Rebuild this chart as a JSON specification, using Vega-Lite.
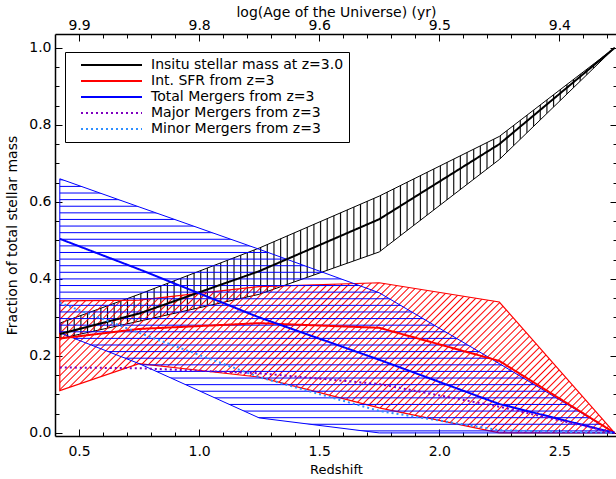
{
  "$schema": "https://vega.github.io/schema/vega-lite/v6.json",
  "width": 562,
  "height": 402,
  "autosize": {"type": "none"},
  "padding": {"left": 55, "top": 34, "right": 0, "bottom": 43},
  "background": "white",
  "config": {
    "view": {"stroke": null},
    "font": "DejaVu Sans",
    "axis": {
      "grid": false,
      "domainColor": "black",
      "domainWidth": 1.5,
      "tickColor": "black",
      "tickWidth": 1,
      "labelFont": "DejaVu Sans",
      "labelFontSize": 14,
      "labelColor": "black",
      "labelOverlap": false,
      "labelFlush": false,
      "titleFont": "DejaVu Sans",
      "titleFontSize": 13,
      "titleFontWeight": "normal",
      "titleColor": "black"
    },
    "legend": {
      "orient": "none",
      "legendX": 10,
      "legendY": 18,
      "symbolType": "stroke",
      "symbolSize": 3721,
      "symbolStrokeWidth": 2,
      "symbolOffset": 10,
      "clipHeight": 16,
      "labelFont": "DejaVu Sans",
      "labelFontSize": 14,
      "labelColor": "black",
      "labelOffset": 8,
      "labelLimit": 400,
      "rowPadding": 0,
      "padding": 5,
      "strokeColor": "black",
      "strokeWidth": 1,
      "fillColor": "white"
    }
  },
  "datasets": {
    "bands": [
      {"band": "insitu", "z": 0.42, "lo": 0.245, "hi": 0.285},
      {"band": "insitu", "z": 0.75, "lo": 0.29, "hi": 0.36},
      {"band": "insitu", "z": 1.25, "lo": 0.36, "hi": 0.48},
      {"band": "insitu", "z": 1.75, "lo": 0.47, "hi": 0.615},
      {"band": "insitu", "z": 2.25, "lo": 0.71, "hi": 0.77},
      {"band": "insitu", "z": 2.73, "lo": 1.0, "hi": 1.0},
      {"band": "sfr", "z": 0.42, "lo": 0.11, "hi": 0.343},
      {"band": "sfr", "z": 0.75, "lo": 0.18, "hi": 0.345},
      {"band": "sfr", "z": 1.25, "lo": 0.145, "hi": 0.38},
      {"band": "sfr", "z": 1.75, "lo": 0.065, "hi": 0.39},
      {"band": "sfr", "z": 2.25, "lo": 0.0, "hi": 0.34},
      {"band": "sfr", "z": 2.73, "lo": 0.0, "hi": 0.0},
      {"band": "mergers", "z": 0.42, "lo": 0.26, "hi": 0.66},
      {"band": "mergers", "z": 0.75, "lo": 0.18, "hi": 0.587},
      {"band": "mergers", "z": 1.25, "lo": 0.039, "hi": 0.477},
      {"band": "mergers", "z": 1.75, "lo": 0.0, "hi": 0.364},
      {"band": "mergers", "z": 2.25, "lo": 0.0, "hi": 0.18},
      {"band": "mergers", "z": 2.73, "lo": 0.0, "hi": 0.0}
    ],
    "lines": [
      {"s": "Insitu stellar mass at z=3.0", "z": 0.42, "f": 0.257},
      {"s": "Insitu stellar mass at z=3.0", "z": 0.75, "f": 0.31},
      {"s": "Insitu stellar mass at z=3.0", "z": 1.25, "f": 0.42},
      {"s": "Insitu stellar mass at z=3.0", "z": 1.75, "f": 0.555},
      {"s": "Insitu stellar mass at z=3.0", "z": 2.25, "f": 0.75},
      {"s": "Insitu stellar mass at z=3.0", "z": 2.73, "f": 1.0},
      {"s": "Int. SFR from z=3", "z": 0.42, "f": 0.245},
      {"s": "Int. SFR from z=3", "z": 0.75, "f": 0.27},
      {"s": "Int. SFR from z=3", "z": 1.25, "f": 0.285},
      {"s": "Int. SFR from z=3", "z": 1.75, "f": 0.273},
      {"s": "Int. SFR from z=3", "z": 2.25, "f": 0.187},
      {"s": "Int. SFR from z=3", "z": 2.73, "f": 0.0},
      {"s": "Total Mergers from z=3", "z": 0.42, "f": 0.504},
      {"s": "Total Mergers from z=3", "z": 0.75, "f": 0.425},
      {"s": "Total Mergers from z=3", "z": 1.25, "f": 0.3},
      {"s": "Total Mergers from z=3", "z": 1.75, "f": 0.19},
      {"s": "Total Mergers from z=3", "z": 2.25, "f": 0.075},
      {"s": "Total Mergers from z=3", "z": 2.73, "f": 0.0},
      {"s": "Major Mergers from z=3", "z": 0.42, "f": 0.17},
      {"s": "Major Mergers from z=3", "z": 0.75, "f": 0.168},
      {"s": "Major Mergers from z=3", "z": 1.25, "f": 0.155},
      {"s": "Major Mergers from z=3", "z": 1.75, "f": 0.127},
      {"s": "Major Mergers from z=3", "z": 2.25, "f": 0.068},
      {"s": "Major Mergers from z=3", "z": 2.73, "f": 0.0},
      {"s": "Minor Mergers from z=3", "z": 0.42, "f": 0.338},
      {"s": "Minor Mergers from z=3", "z": 0.75, "f": 0.26},
      {"s": "Minor Mergers from z=3", "z": 1.25, "f": 0.145},
      {"s": "Minor Mergers from z=3", "z": 1.75, "f": 0.057},
      {"s": "Minor Mergers from z=3", "z": 2.25, "f": 0.007},
      {"s": "Minor Mergers from z=3", "z": 2.73, "f": 0.0}
    ]
  },
  "layer": [
    {
      "data": {"name": "bands"},
      "transform": [{"filter": "datum.band === 'insitu'"}],
      "mark": {
        "type": "area",
        "clip": true,
        "stroke": "black",
        "strokeWidth": 1,
        "fill": {
          "gradient": "linear", "x1": 0, "y1": 0, "x2": 1, "y2": 0,
          "stops": [
            {"offset":0,"color":"#0000"},{"offset":0.002,"color":"#000"},{"offset":0.004,"color":"#0000"},
            {"offset":0.012,"color":"#0000"},{"offset":0.014,"color":"#000"},{"offset":0.016,"color":"#0000"},
            {"offset":0.024,"color":"#0000"},{"offset":0.026,"color":"#000"},{"offset":0.028,"color":"#0000"},
            {"offset":0.036,"color":"#0000"},{"offset":0.038,"color":"#000"},{"offset":0.04,"color":"#0000"},
            {"offset":0.048,"color":"#0000"},{"offset":0.05,"color":"#000"},{"offset":0.052,"color":"#0000"},
            {"offset":0.06,"color":"#0000"},{"offset":0.062,"color":"#000"},{"offset":0.064,"color":"#0000"},
            {"offset":0.072,"color":"#0000"},{"offset":0.074,"color":"#000"},{"offset":0.076,"color":"#0000"},
            {"offset":0.084,"color":"#0000"},{"offset":0.086,"color":"#000"},{"offset":0.088,"color":"#0000"},
            {"offset":0.096,"color":"#0000"},{"offset":0.098,"color":"#000"},{"offset":0.1,"color":"#0000"},
            {"offset":0.108,"color":"#0000"},{"offset":0.11,"color":"#000"},{"offset":0.112,"color":"#0000"},
            {"offset":0.12,"color":"#0000"},{"offset":0.122,"color":"#000"},{"offset":0.124,"color":"#0000"},
            {"offset":0.132,"color":"#0000"},{"offset":0.134,"color":"#000"},{"offset":0.136,"color":"#0000"},
            {"offset":0.144,"color":"#0000"},{"offset":0.146,"color":"#000"},{"offset":0.148,"color":"#0000"},
            {"offset":0.156,"color":"#0000"},{"offset":0.158,"color":"#000"},{"offset":0.16,"color":"#0000"},
            {"offset":0.168,"color":"#0000"},{"offset":0.17,"color":"#000"},{"offset":0.172,"color":"#0000"},
            {"offset":0.18,"color":"#0000"},{"offset":0.182,"color":"#000"},{"offset":0.184,"color":"#0000"},
            {"offset":0.192,"color":"#0000"},{"offset":0.194,"color":"#000"},{"offset":0.196,"color":"#0000"},
            {"offset":0.204,"color":"#0000"},{"offset":0.206,"color":"#000"},{"offset":0.208,"color":"#0000"},
            {"offset":0.216,"color":"#0000"},{"offset":0.218,"color":"#000"},{"offset":0.22,"color":"#0000"},
            {"offset":0.228,"color":"#0000"},{"offset":0.23,"color":"#000"},{"offset":0.232,"color":"#0000"},
            {"offset":0.24,"color":"#0000"},{"offset":0.242,"color":"#000"},{"offset":0.244,"color":"#0000"},
            {"offset":0.252,"color":"#0000"},{"offset":0.254,"color":"#000"},{"offset":0.256,"color":"#0000"},
            {"offset":0.264,"color":"#0000"},{"offset":0.266,"color":"#000"},{"offset":0.268,"color":"#0000"},
            {"offset":0.276,"color":"#0000"},{"offset":0.278,"color":"#000"},{"offset":0.28,"color":"#0000"},
            {"offset":0.288,"color":"#0000"},{"offset":0.29,"color":"#000"},{"offset":0.292,"color":"#0000"},
            {"offset":0.3,"color":"#0000"},{"offset":0.302,"color":"#000"},{"offset":0.304,"color":"#0000"},
            {"offset":0.312,"color":"#0000"},{"offset":0.314,"color":"#000"},{"offset":0.316,"color":"#0000"},
            {"offset":0.324,"color":"#0000"},{"offset":0.326,"color":"#000"},{"offset":0.328,"color":"#0000"},
            {"offset":0.336,"color":"#0000"},{"offset":0.338,"color":"#000"},{"offset":0.34,"color":"#0000"},
            {"offset":0.348,"color":"#0000"},{"offset":0.35,"color":"#000"},{"offset":0.352,"color":"#0000"},
            {"offset":0.36,"color":"#0000"},{"offset":0.362,"color":"#000"},{"offset":0.364,"color":"#0000"},
            {"offset":0.372,"color":"#0000"},{"offset":0.374,"color":"#000"},{"offset":0.376,"color":"#0000"},
            {"offset":0.384,"color":"#0000"},{"offset":0.386,"color":"#000"},{"offset":0.388,"color":"#0000"},
            {"offset":0.396,"color":"#0000"},{"offset":0.398,"color":"#000"},{"offset":0.4,"color":"#0000"},
            {"offset":0.408,"color":"#0000"},{"offset":0.41,"color":"#000"},{"offset":0.412,"color":"#0000"},
            {"offset":0.42,"color":"#0000"},{"offset":0.422,"color":"#000"},{"offset":0.424,"color":"#0000"},
            {"offset":0.432,"color":"#0000"},{"offset":0.434,"color":"#000"},{"offset":0.436,"color":"#0000"},
            {"offset":0.444,"color":"#0000"},{"offset":0.446,"color":"#000"},{"offset":0.448,"color":"#0000"},
            {"offset":0.456,"color":"#0000"},{"offset":0.458,"color":"#000"},{"offset":0.46,"color":"#0000"},
            {"offset":0.468,"color":"#0000"},{"offset":0.47,"color":"#000"},{"offset":0.472,"color":"#0000"},
            {"offset":0.48,"color":"#0000"},{"offset":0.482,"color":"#000"},{"offset":0.484,"color":"#0000"},
            {"offset":0.492,"color":"#0000"},{"offset":0.494,"color":"#000"},{"offset":0.496,"color":"#0000"},
            {"offset":0.504,"color":"#0000"},{"offset":0.506,"color":"#000"},{"offset":0.508,"color":"#0000"},
            {"offset":0.516,"color":"#0000"},{"offset":0.518,"color":"#000"},{"offset":0.52,"color":"#0000"},
            {"offset":0.528,"color":"#0000"},{"offset":0.53,"color":"#000"},{"offset":0.532,"color":"#0000"},
            {"offset":0.54,"color":"#0000"},{"offset":0.542,"color":"#000"},{"offset":0.544,"color":"#0000"},
            {"offset":0.552,"color":"#0000"},{"offset":0.554,"color":"#000"},{"offset":0.556,"color":"#0000"},
            {"offset":0.564,"color":"#0000"},{"offset":0.566,"color":"#000"},{"offset":0.568,"color":"#0000"},
            {"offset":0.576,"color":"#0000"},{"offset":0.578,"color":"#000"},{"offset":0.58,"color":"#0000"},
            {"offset":0.588,"color":"#0000"},{"offset":0.59,"color":"#000"},{"offset":0.592,"color":"#0000"},
            {"offset":0.6,"color":"#0000"},{"offset":0.602,"color":"#000"},{"offset":0.604,"color":"#0000"},
            {"offset":0.612,"color":"#0000"},{"offset":0.614,"color":"#000"},{"offset":0.616,"color":"#0000"},
            {"offset":0.624,"color":"#0000"},{"offset":0.626,"color":"#000"},{"offset":0.628,"color":"#0000"},
            {"offset":0.636,"color":"#0000"},{"offset":0.638,"color":"#000"},{"offset":0.64,"color":"#0000"},
            {"offset":0.648,"color":"#0000"},{"offset":0.65,"color":"#000"},{"offset":0.652,"color":"#0000"},
            {"offset":0.66,"color":"#0000"},{"offset":0.662,"color":"#000"},{"offset":0.664,"color":"#0000"},
            {"offset":0.672,"color":"#0000"},{"offset":0.674,"color":"#000"},{"offset":0.676,"color":"#0000"},
            {"offset":0.684,"color":"#0000"},{"offset":0.686,"color":"#000"},{"offset":0.688,"color":"#0000"},
            {"offset":0.696,"color":"#0000"},{"offset":0.698,"color":"#000"},{"offset":0.7,"color":"#0000"},
            {"offset":0.708,"color":"#0000"},{"offset":0.71,"color":"#000"},{"offset":0.712,"color":"#0000"},
            {"offset":0.72,"color":"#0000"},{"offset":0.722,"color":"#000"},{"offset":0.724,"color":"#0000"},
            {"offset":0.732,"color":"#0000"},{"offset":0.734,"color":"#000"},{"offset":0.736,"color":"#0000"},
            {"offset":0.744,"color":"#0000"},{"offset":0.746,"color":"#000"},{"offset":0.748,"color":"#0000"},
            {"offset":0.756,"color":"#0000"},{"offset":0.758,"color":"#000"},{"offset":0.76,"color":"#0000"},
            {"offset":0.768,"color":"#0000"},{"offset":0.77,"color":"#000"},{"offset":0.772,"color":"#0000"},
            {"offset":0.78,"color":"#0000"},{"offset":0.782,"color":"#000"},{"offset":0.784,"color":"#0000"},
            {"offset":0.792,"color":"#0000"},{"offset":0.794,"color":"#000"},{"offset":0.796,"color":"#0000"},
            {"offset":0.804,"color":"#0000"},{"offset":0.806,"color":"#000"},{"offset":0.808,"color":"#0000"},
            {"offset":0.816,"color":"#0000"},{"offset":0.818,"color":"#000"},{"offset":0.82,"color":"#0000"},
            {"offset":0.828,"color":"#0000"},{"offset":0.83,"color":"#000"},{"offset":0.832,"color":"#0000"},
            {"offset":0.84,"color":"#0000"},{"offset":0.842,"color":"#000"},{"offset":0.844,"color":"#0000"},
            {"offset":0.852,"color":"#0000"},{"offset":0.854,"color":"#000"},{"offset":0.856,"color":"#0000"},
            {"offset":0.864,"color":"#0000"},{"offset":0.866,"color":"#000"},{"offset":0.868,"color":"#0000"},
            {"offset":0.876,"color":"#0000"},{"offset":0.878,"color":"#000"},{"offset":0.88,"color":"#0000"},
            {"offset":0.888,"color":"#0000"},{"offset":0.89,"color":"#000"},{"offset":0.892,"color":"#0000"},
            {"offset":0.9,"color":"#0000"},{"offset":0.902,"color":"#000"},{"offset":0.904,"color":"#0000"},
            {"offset":0.912,"color":"#0000"},{"offset":0.914,"color":"#000"},{"offset":0.916,"color":"#0000"},
            {"offset":0.924,"color":"#0000"},{"offset":0.926,"color":"#000"},{"offset":0.928,"color":"#0000"},
            {"offset":0.936,"color":"#0000"},{"offset":0.938,"color":"#000"},{"offset":0.94,"color":"#0000"},
            {"offset":0.948,"color":"#0000"},{"offset":0.95,"color":"#000"},{"offset":0.952,"color":"#0000"},
            {"offset":0.96,"color":"#0000"},{"offset":0.962,"color":"#000"},{"offset":0.964,"color":"#0000"},
            {"offset":0.972,"color":"#0000"},{"offset":0.974,"color":"#000"},{"offset":0.976,"color":"#0000"},
            {"offset":0.984,"color":"#0000"},{"offset":0.986,"color":"#000"},{"offset":0.988,"color":"#0000"},
            {"offset":0.996,"color":"#0000"},{"offset":0.998,"color":"#000"},{"offset":1,"color":"#0000"}
          ]
        }
      },
      "encoding": {
        "x": {
          "field": "z", "type": "quantitative",
          "scale": {"domain": [0.4, 2.74], "nice": false, "zero": false},
          "axis": {
            "orient": "bottom",
            "title": "Redshift",
            "values": [0.5,0.6,0.7,0.8,0.9,1.0,1.1,1.2,1.3,1.4,1.5,1.6,1.7,1.8,1.9,2.0,2.1,2.2,2.3,2.4,2.5,2.6,2.7],
            "labelExpr": "abs(datum.value*2-round(datum.value*2))<0.01 ? format(datum.value,'.1f') : ''",
            "tickSize": {"condition": {"test": "abs(datum.value*2-round(datum.value*2))<0.01", "value": -7}, "value": -4},
            "labelPadding": 15,
            "titlePadding": 2
          }
        },
        "y": {
          "field": "hi", "type": "quantitative",
          "scale": {"domain": [-0.008, 1.036], "nice": false, "zero": false},
          "axis": {
            "orient": "left",
            "title": "Fraction of total stellar mass",
            "titleFontSize": 14,
            "values": [0,0.05,0.1,0.15,0.2,0.25,0.3,0.35,0.4,0.45,0.5,0.55,0.6,0.65,0.7,0.75,0.8,0.85,0.9,0.95,1.0],
            "labelExpr": "abs(datum.value*5-round(datum.value*5))<0.01 ? format(datum.value,'.1f') : ''",
            "tickSize": {"condition": {"test": "abs(datum.value*5-round(datum.value*5))<0.01", "value": -7}, "value": -4},
            "labelPadding": 11,
            "titlePadding": 9
          }
        },
        "y2": {"field": "lo"}
      }
    },
    {
      "data": {"name": "bands"},
      "transform": [{"filter": "datum.band === 'sfr'"}],
      "mark": {
        "type": "area",
        "clip": true,
        "stroke": "#ff0000",
        "strokeWidth": 1.2,
        "fill": {
          "gradient": "linear", "x1": 0, "y1": 0, "x2": 1.184, "y2": 0.321,
          "stops": [
            {"offset":0,"color":"#f000"},{"offset":0.002,"color":"#f00"},{"offset":0.004,"color":"#f000"},
            {"offset":0.01,"color":"#f000"},{"offset":0.012,"color":"#f00"},{"offset":0.014,"color":"#f000"},
            {"offset":0.02,"color":"#f000"},{"offset":0.022,"color":"#f00"},{"offset":0.024,"color":"#f000"},
            {"offset":0.03,"color":"#f000"},{"offset":0.032,"color":"#f00"},{"offset":0.034,"color":"#f000"},
            {"offset":0.04,"color":"#f000"},{"offset":0.042,"color":"#f00"},{"offset":0.044,"color":"#f000"},
            {"offset":0.05,"color":"#f000"},{"offset":0.052,"color":"#f00"},{"offset":0.054,"color":"#f000"},
            {"offset":0.06,"color":"#f000"},{"offset":0.062,"color":"#f00"},{"offset":0.064,"color":"#f000"},
            {"offset":0.07,"color":"#f000"},{"offset":0.072,"color":"#f00"},{"offset":0.074,"color":"#f000"},
            {"offset":0.08,"color":"#f000"},{"offset":0.082,"color":"#f00"},{"offset":0.084,"color":"#f000"},
            {"offset":0.09,"color":"#f000"},{"offset":0.092,"color":"#f00"},{"offset":0.094,"color":"#f000"},
            {"offset":0.1,"color":"#f000"},{"offset":0.102,"color":"#f00"},{"offset":0.104,"color":"#f000"},
            {"offset":0.11,"color":"#f000"},{"offset":0.112,"color":"#f00"},{"offset":0.114,"color":"#f000"},
            {"offset":0.12,"color":"#f000"},{"offset":0.122,"color":"#f00"},{"offset":0.124,"color":"#f000"},
            {"offset":0.13,"color":"#f000"},{"offset":0.132,"color":"#f00"},{"offset":0.134,"color":"#f000"},
            {"offset":0.14,"color":"#f000"},{"offset":0.142,"color":"#f00"},{"offset":0.144,"color":"#f000"},
            {"offset":0.15,"color":"#f000"},{"offset":0.152,"color":"#f00"},{"offset":0.154,"color":"#f000"},
            {"offset":0.16,"color":"#f000"},{"offset":0.162,"color":"#f00"},{"offset":0.164,"color":"#f000"},
            {"offset":0.17,"color":"#f000"},{"offset":0.172,"color":"#f00"},{"offset":0.174,"color":"#f000"},
            {"offset":0.18,"color":"#f000"},{"offset":0.182,"color":"#f00"},{"offset":0.184,"color":"#f000"},
            {"offset":0.19,"color":"#f000"},{"offset":0.192,"color":"#f00"},{"offset":0.194,"color":"#f000"},
            {"offset":0.2,"color":"#f000"},{"offset":0.202,"color":"#f00"},{"offset":0.204,"color":"#f000"},
            {"offset":0.21,"color":"#f000"},{"offset":0.212,"color":"#f00"},{"offset":0.214,"color":"#f000"},
            {"offset":0.22,"color":"#f000"},{"offset":0.222,"color":"#f00"},{"offset":0.224,"color":"#f000"},
            {"offset":0.23,"color":"#f000"},{"offset":0.232,"color":"#f00"},{"offset":0.234,"color":"#f000"},
            {"offset":0.24,"color":"#f000"},{"offset":0.242,"color":"#f00"},{"offset":0.244,"color":"#f000"},
            {"offset":0.25,"color":"#f000"},{"offset":0.252,"color":"#f00"},{"offset":0.254,"color":"#f000"},
            {"offset":0.26,"color":"#f000"},{"offset":0.262,"color":"#f00"},{"offset":0.264,"color":"#f000"},
            {"offset":0.27,"color":"#f000"},{"offset":0.272,"color":"#f00"},{"offset":0.274,"color":"#f000"},
            {"offset":0.28,"color":"#f000"},{"offset":0.282,"color":"#f00"},{"offset":0.284,"color":"#f000"},
            {"offset":0.29,"color":"#f000"},{"offset":0.292,"color":"#f00"},{"offset":0.294,"color":"#f000"},
            {"offset":0.3,"color":"#f000"},{"offset":0.302,"color":"#f00"},{"offset":0.304,"color":"#f000"},
            {"offset":0.31,"color":"#f000"},{"offset":0.312,"color":"#f00"},{"offset":0.314,"color":"#f000"},
            {"offset":0.32,"color":"#f000"},{"offset":0.322,"color":"#f00"},{"offset":0.324,"color":"#f000"},
            {"offset":0.33,"color":"#f000"},{"offset":0.332,"color":"#f00"},{"offset":0.334,"color":"#f000"},
            {"offset":0.34,"color":"#f000"},{"offset":0.342,"color":"#f00"},{"offset":0.344,"color":"#f000"},
            {"offset":0.35,"color":"#f000"},{"offset":0.352,"color":"#f00"},{"offset":0.354,"color":"#f000"},
            {"offset":0.36,"color":"#f000"},{"offset":0.362,"color":"#f00"},{"offset":0.364,"color":"#f000"},
            {"offset":0.37,"color":"#f000"},{"offset":0.372,"color":"#f00"},{"offset":0.374,"color":"#f000"},
            {"offset":0.38,"color":"#f000"},{"offset":0.382,"color":"#f00"},{"offset":0.384,"color":"#f000"},
            {"offset":0.39,"color":"#f000"},{"offset":0.392,"color":"#f00"},{"offset":0.394,"color":"#f000"},
            {"offset":0.4,"color":"#f000"},{"offset":0.402,"color":"#f00"},{"offset":0.404,"color":"#f000"},
            {"offset":0.41,"color":"#f000"},{"offset":0.412,"color":"#f00"},{"offset":0.414,"color":"#f000"},
            {"offset":0.42,"color":"#f000"},{"offset":0.422,"color":"#f00"},{"offset":0.424,"color":"#f000"},
            {"offset":0.43,"color":"#f000"},{"offset":0.432,"color":"#f00"},{"offset":0.434,"color":"#f000"},
            {"offset":0.44,"color":"#f000"},{"offset":0.442,"color":"#f00"},{"offset":0.444,"color":"#f000"},
            {"offset":0.45,"color":"#f000"},{"offset":0.452,"color":"#f00"},{"offset":0.454,"color":"#f000"},
            {"offset":0.46,"color":"#f000"},{"offset":0.462,"color":"#f00"},{"offset":0.464,"color":"#f000"},
            {"offset":0.47,"color":"#f000"},{"offset":0.472,"color":"#f00"},{"offset":0.474,"color":"#f000"},
            {"offset":0.48,"color":"#f000"},{"offset":0.482,"color":"#f00"},{"offset":0.484,"color":"#f000"},
            {"offset":0.49,"color":"#f000"},{"offset":0.492,"color":"#f00"},{"offset":0.494,"color":"#f000"},
            {"offset":0.5,"color":"#f000"},{"offset":0.502,"color":"#f00"},{"offset":0.504,"color":"#f000"},
            {"offset":0.51,"color":"#f000"},{"offset":0.512,"color":"#f00"},{"offset":0.514,"color":"#f000"},
            {"offset":0.52,"color":"#f000"},{"offset":0.522,"color":"#f00"},{"offset":0.524,"color":"#f000"},
            {"offset":0.53,"color":"#f000"},{"offset":0.532,"color":"#f00"},{"offset":0.534,"color":"#f000"},
            {"offset":0.54,"color":"#f000"},{"offset":0.542,"color":"#f00"},{"offset":0.544,"color":"#f000"},
            {"offset":0.55,"color":"#f000"},{"offset":0.552,"color":"#f00"},{"offset":0.554,"color":"#f000"},
            {"offset":0.56,"color":"#f000"},{"offset":0.562,"color":"#f00"},{"offset":0.564,"color":"#f000"},
            {"offset":0.57,"color":"#f000"},{"offset":0.572,"color":"#f00"},{"offset":0.574,"color":"#f000"},
            {"offset":0.58,"color":"#f000"},{"offset":0.582,"color":"#f00"},{"offset":0.584,"color":"#f000"},
            {"offset":0.59,"color":"#f000"},{"offset":0.592,"color":"#f00"},{"offset":0.594,"color":"#f000"},
            {"offset":0.6,"color":"#f000"},{"offset":0.602,"color":"#f00"},{"offset":0.604,"color":"#f000"},
            {"offset":0.61,"color":"#f000"},{"offset":0.612,"color":"#f00"},{"offset":0.614,"color":"#f000"},
            {"offset":0.62,"color":"#f000"},{"offset":0.622,"color":"#f00"},{"offset":0.624,"color":"#f000"},
            {"offset":0.63,"color":"#f000"},{"offset":0.632,"color":"#f00"},{"offset":0.634,"color":"#f000"},
            {"offset":0.64,"color":"#f000"},{"offset":0.642,"color":"#f00"},{"offset":0.644,"color":"#f000"},
            {"offset":0.65,"color":"#f000"},{"offset":0.652,"color":"#f00"},{"offset":0.654,"color":"#f000"},
            {"offset":0.66,"color":"#f000"},{"offset":0.662,"color":"#f00"},{"offset":0.664,"color":"#f000"},
            {"offset":0.67,"color":"#f000"},{"offset":0.672,"color":"#f00"},{"offset":0.674,"color":"#f000"},
            {"offset":0.68,"color":"#f000"},{"offset":0.682,"color":"#f00"},{"offset":0.684,"color":"#f000"},
            {"offset":0.69,"color":"#f000"},{"offset":0.692,"color":"#f00"},{"offset":0.694,"color":"#f000"},
            {"offset":0.7,"color":"#f000"},{"offset":0.702,"color":"#f00"},{"offset":0.704,"color":"#f000"},
            {"offset":0.71,"color":"#f000"},{"offset":0.712,"color":"#f00"},{"offset":0.714,"color":"#f000"},
            {"offset":0.72,"color":"#f000"},{"offset":0.722,"color":"#f00"},{"offset":0.724,"color":"#f000"},
            {"offset":0.73,"color":"#f000"},{"offset":0.732,"color":"#f00"},{"offset":0.734,"color":"#f000"},
            {"offset":0.74,"color":"#f000"},{"offset":0.742,"color":"#f00"},{"offset":0.744,"color":"#f000"},
            {"offset":0.75,"color":"#f000"},{"offset":0.752,"color":"#f00"},{"offset":0.754,"color":"#f000"},
            {"offset":0.76,"color":"#f000"},{"offset":0.762,"color":"#f00"},{"offset":0.764,"color":"#f000"},
            {"offset":0.77,"color":"#f000"},{"offset":0.772,"color":"#f00"},{"offset":0.774,"color":"#f000"},
            {"offset":0.78,"color":"#f000"},{"offset":0.782,"color":"#f00"},{"offset":0.784,"color":"#f000"},
            {"offset":0.79,"color":"#f000"},{"offset":0.792,"color":"#f00"},{"offset":0.794,"color":"#f000"},
            {"offset":0.8,"color":"#f000"},{"offset":0.802,"color":"#f00"},{"offset":0.804,"color":"#f000"},
            {"offset":0.81,"color":"#f000"},{"offset":0.812,"color":"#f00"},{"offset":0.814,"color":"#f000"},
            {"offset":0.82,"color":"#f000"},{"offset":0.822,"color":"#f00"},{"offset":0.824,"color":"#f000"},
            {"offset":0.83,"color":"#f000"},{"offset":0.832,"color":"#f00"},{"offset":0.834,"color":"#f000"},
            {"offset":0.84,"color":"#f000"},{"offset":0.842,"color":"#f00"},{"offset":0.844,"color":"#f000"},
            {"offset":0.85,"color":"#f000"},{"offset":0.852,"color":"#f00"},{"offset":0.854,"color":"#f000"},
            {"offset":0.86,"color":"#f000"},{"offset":0.862,"color":"#f00"},{"offset":0.864,"color":"#f000"},
            {"offset":0.87,"color":"#f000"},{"offset":0.872,"color":"#f00"},{"offset":0.874,"color":"#f000"},
            {"offset":0.88,"color":"#f000"},{"offset":0.882,"color":"#f00"},{"offset":0.884,"color":"#f000"},
            {"offset":0.89,"color":"#f000"},{"offset":0.892,"color":"#f00"},{"offset":0.894,"color":"#f000"},
            {"offset":0.9,"color":"#f000"},{"offset":0.902,"color":"#f00"},{"offset":0.904,"color":"#f000"},
            {"offset":0.91,"color":"#f000"},{"offset":0.912,"color":"#f00"},{"offset":0.914,"color":"#f000"},
            {"offset":0.92,"color":"#f000"},{"offset":0.922,"color":"#f00"},{"offset":0.924,"color":"#f000"},
            {"offset":0.93,"color":"#f000"},{"offset":0.932,"color":"#f00"},{"offset":0.934,"color":"#f000"},
            {"offset":0.94,"color":"#f000"},{"offset":0.942,"color":"#f00"},{"offset":0.944,"color":"#f000"},
            {"offset":0.95,"color":"#f000"},{"offset":0.952,"color":"#f00"},{"offset":0.954,"color":"#f000"},
            {"offset":0.96,"color":"#f000"},{"offset":0.962,"color":"#f00"},{"offset":0.964,"color":"#f000"},
            {"offset":0.97,"color":"#f000"},{"offset":0.972,"color":"#f00"},{"offset":0.974,"color":"#f000"},
            {"offset":0.98,"color":"#f000"},{"offset":0.982,"color":"#f00"},{"offset":0.984,"color":"#f000"},
            {"offset":0.99,"color":"#f000"},{"offset":0.992,"color":"#f00"},{"offset":0.994,"color":"#f000"}
          ]
        }
      },
      "encoding": {
        "x": {
          "field": "z", "type": "quantitative",
          "axis": {
            "orient": "top",
            "title": "log(Age of the Universe) (yr)",
            "titleFontSize": 14,
            "values": [0.5,0.6,0.7,0.8,0.9,1.0,1.1,1.2,1.3,1.4,1.5,1.6,1.7,1.8,1.9,2.0,2.1,2.2,2.3,2.4,2.5,2.6,2.7],
            "labelExpr": "abs(datum.value-0.5)<0.01 ? '9.9' : abs(datum.value-1)<0.01 ? '9.8' : abs(datum.value-1.5)<0.01 ? '9.6' : abs(datum.value-2)<0.01 ? '9.5' : abs(datum.value-2.5)<0.01 ? '9.4' : ''",
            "tickSize": {"condition": {"test": "abs(datum.value*2-round(datum.value*2))<0.01", "value": -7}, "value": -4},
            "labelPadding": 9,
            "titlePadding": -4
          }
        },
        "y": {
          "field": "hi", "type": "quantitative",
          "axis": {
            "orient": "right",
            "title": null,
            "labels": false,
            "values": [0,0.05,0.1,0.15,0.2,0.25,0.3,0.35,0.4,0.45,0.5,0.55,0.6,0.65,0.7,0.75,0.8,0.85,0.9,0.95,1.0],
            "tickSize": {"condition": {"test": "abs(datum.value*5-round(datum.value*5))<0.01", "value": -7}, "value": -4}
          }
        },
        "y2": {"field": "lo"}
      }
    },
    {
      "data": {"name": "bands"},
      "transform": [{"filter": "datum.band === 'mergers'"}],
      "mark": {
        "type": "area",
        "clip": true,
        "stroke": "#0000ff",
        "strokeWidth": 1,
        "fill": {
          "gradient": "linear", "x1": 0, "y1": 0, "x2": 0, "y2": 1,
          "stops": [
            {"offset":0,"color":"#00f0"},{"offset":0.004,"color":"#00f"},{"offset":0.008,"color":"#00f0"},
            {"offset":0.026,"color":"#00f0"},{"offset":0.03,"color":"#00f"},{"offset":0.034,"color":"#00f0"},
            {"offset":0.052,"color":"#00f0"},{"offset":0.056,"color":"#00f"},{"offset":0.06,"color":"#00f0"},
            {"offset":0.078,"color":"#00f0"},{"offset":0.082,"color":"#00f"},{"offset":0.086,"color":"#00f0"},
            {"offset":0.104,"color":"#00f0"},{"offset":0.108,"color":"#00f"},{"offset":0.112,"color":"#00f0"},
            {"offset":0.13,"color":"#00f0"},{"offset":0.134,"color":"#00f"},{"offset":0.138,"color":"#00f0"},
            {"offset":0.156,"color":"#00f0"},{"offset":0.16,"color":"#00f"},{"offset":0.164,"color":"#00f0"},
            {"offset":0.182,"color":"#00f0"},{"offset":0.186,"color":"#00f"},{"offset":0.19,"color":"#00f0"},
            {"offset":0.208,"color":"#00f0"},{"offset":0.212,"color":"#00f"},{"offset":0.216,"color":"#00f0"},
            {"offset":0.234,"color":"#00f0"},{"offset":0.238,"color":"#00f"},{"offset":0.242,"color":"#00f0"},
            {"offset":0.26,"color":"#00f0"},{"offset":0.264,"color":"#00f"},{"offset":0.268,"color":"#00f0"},
            {"offset":0.286,"color":"#00f0"},{"offset":0.29,"color":"#00f"},{"offset":0.294,"color":"#00f0"},
            {"offset":0.312,"color":"#00f0"},{"offset":0.316,"color":"#00f"},{"offset":0.32,"color":"#00f0"},
            {"offset":0.338,"color":"#00f0"},{"offset":0.342,"color":"#00f"},{"offset":0.346,"color":"#00f0"},
            {"offset":0.364,"color":"#00f0"},{"offset":0.368,"color":"#00f"},{"offset":0.372,"color":"#00f0"},
            {"offset":0.39,"color":"#00f0"},{"offset":0.394,"color":"#00f"},{"offset":0.398,"color":"#00f0"},
            {"offset":0.416,"color":"#00f0"},{"offset":0.42,"color":"#00f"},{"offset":0.424,"color":"#00f0"},
            {"offset":0.442,"color":"#00f0"},{"offset":0.446,"color":"#00f"},{"offset":0.45,"color":"#00f0"},
            {"offset":0.468,"color":"#00f0"},{"offset":0.472,"color":"#00f"},{"offset":0.476,"color":"#00f0"},
            {"offset":0.494,"color":"#00f0"},{"offset":0.498,"color":"#00f"},{"offset":0.502,"color":"#00f0"},
            {"offset":0.52,"color":"#00f0"},{"offset":0.524,"color":"#00f"},{"offset":0.528,"color":"#00f0"},
            {"offset":0.546,"color":"#00f0"},{"offset":0.55,"color":"#00f"},{"offset":0.554,"color":"#00f0"},
            {"offset":0.572,"color":"#00f0"},{"offset":0.576,"color":"#00f"},{"offset":0.58,"color":"#00f0"},
            {"offset":0.598,"color":"#00f0"},{"offset":0.602,"color":"#00f"},{"offset":0.606,"color":"#00f0"},
            {"offset":0.624,"color":"#00f0"},{"offset":0.628,"color":"#00f"},{"offset":0.632,"color":"#00f0"},
            {"offset":0.65,"color":"#00f0"},{"offset":0.654,"color":"#00f"},{"offset":0.658,"color":"#00f0"},
            {"offset":0.676,"color":"#00f0"},{"offset":0.68,"color":"#00f"},{"offset":0.684,"color":"#00f0"},
            {"offset":0.702,"color":"#00f0"},{"offset":0.706,"color":"#00f"},{"offset":0.71,"color":"#00f0"},
            {"offset":0.728,"color":"#00f0"},{"offset":0.732,"color":"#00f"},{"offset":0.736,"color":"#00f0"},
            {"offset":0.754,"color":"#00f0"},{"offset":0.758,"color":"#00f"},{"offset":0.762,"color":"#00f0"},
            {"offset":0.78,"color":"#00f0"},{"offset":0.784,"color":"#00f"},{"offset":0.788,"color":"#00f0"},
            {"offset":0.806,"color":"#00f0"},{"offset":0.81,"color":"#00f"},{"offset":0.814,"color":"#00f0"},
            {"offset":0.832,"color":"#00f0"},{"offset":0.836,"color":"#00f"},{"offset":0.84,"color":"#00f0"},
            {"offset":0.858,"color":"#00f0"},{"offset":0.862,"color":"#00f"},{"offset":0.866,"color":"#00f0"},
            {"offset":0.884,"color":"#00f0"},{"offset":0.888,"color":"#00f"},{"offset":0.892,"color":"#00f0"},
            {"offset":0.91,"color":"#00f0"},{"offset":0.914,"color":"#00f"},{"offset":0.918,"color":"#00f0"},
            {"offset":0.936,"color":"#00f0"},{"offset":0.94,"color":"#00f"},{"offset":0.944,"color":"#00f0"},
            {"offset":0.962,"color":"#00f0"},{"offset":0.966,"color":"#00f"},{"offset":0.97,"color":"#00f0"},
            {"offset":0.988,"color":"#00f0"},{"offset":0.992,"color":"#00f"},{"offset":0.996,"color":"#00f0"}
          ]
        }
      },
      "encoding": {
        "x": {"field": "z", "type": "quantitative", "axis": null},
        "y": {"field": "hi", "type": "quantitative", "axis": null},
        "y2": {"field": "lo"}
      }
    },
    {
      "data": {"name": "lines"},
      "mark": {"type": "line", "clip": true, "strokeWidth": 2},
      "encoding": {
        "x": {"field": "z", "type": "quantitative", "axis": null},
        "y": {"field": "f", "type": "quantitative", "axis": null},
        "color": {
          "field": "s", "type": "nominal", "title": null,
          "scale": {
            "domain": ["Insitu stellar mass at z=3.0", "Int. SFR from z=3", "Total Mergers from z=3", "Major Mergers from z=3", "Minor Mergers from z=3"],
            "range": ["#000000", "#ff0000", "#0000ff", "#7f00bf", "#2f8fff"]
          }
        },
        "strokeDash": {
          "field": "s", "type": "nominal", "title": null,
          "scale": {
            "domain": ["Insitu stellar mass at z=3.0", "Int. SFR from z=3", "Total Mergers from z=3", "Major Mergers from z=3", "Minor Mergers from z=3"],
            "range": [[1, 0], [1, 0], [1, 0], [2, 3], [2, 3]]
          }
        }
      }
    }
  ],
  "resolve": {"axis": {"x": "independent", "y": "independent"}}
}
